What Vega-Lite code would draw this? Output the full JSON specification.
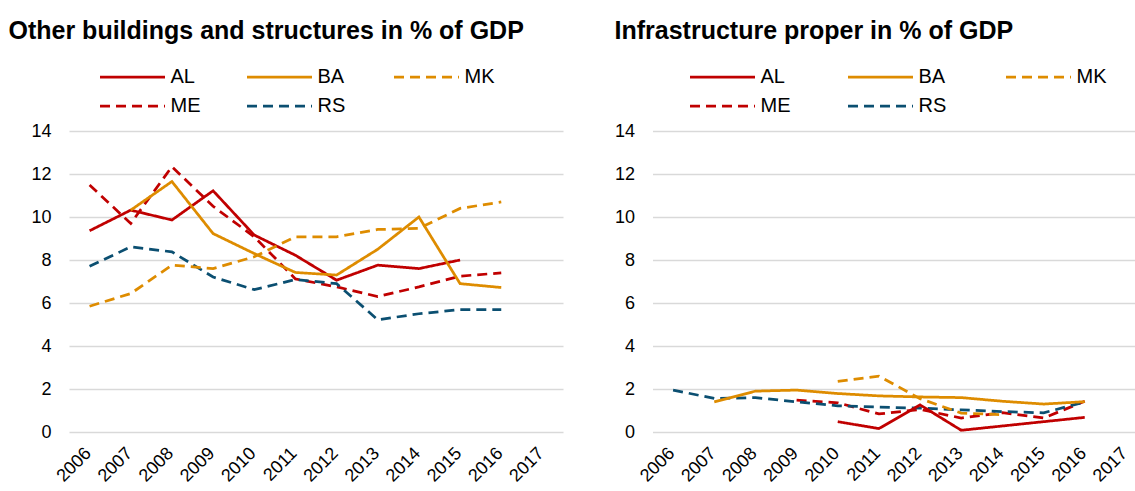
{
  "$schema": "https://vega.github.io/schema/vega-lite/v6.json",
  "padding": {"left": 8, "top": 19, "right": 0, "bottom": 0},
  "background": "white",
  "datasets": {
    "other": [
      {"series": "AL", "year": "2006", "value": 9.36},
      {"series": "AL", "year": "2007", "value": 10.32},
      {"series": "AL", "year": "2008", "value": 9.86},
      {"series": "AL", "year": "2009", "value": 11.22},
      {"series": "AL", "year": "2010", "value": 9.16},
      {"series": "AL", "year": "2011", "value": 8.22},
      {"series": "AL", "year": "2012", "value": 7.06},
      {"series": "AL", "year": "2013", "value": 7.76},
      {"series": "AL", "year": "2014", "value": 7.6},
      {"series": "AL", "year": "2015", "value": 8.0},
      {"series": "BA", "year": "2007", "value": 10.32},
      {"series": "BA", "year": "2008", "value": 11.65},
      {"series": "BA", "year": "2009", "value": 9.23},
      {"series": "BA", "year": "2010", "value": 8.3},
      {"series": "BA", "year": "2011", "value": 7.42},
      {"series": "BA", "year": "2012", "value": 7.3},
      {"series": "BA", "year": "2013", "value": 8.5},
      {"series": "BA", "year": "2014", "value": 10.0},
      {"series": "BA", "year": "2015", "value": 6.9},
      {"series": "BA", "year": "2016", "value": 6.72},
      {"series": "MK", "year": "2006", "value": 5.85},
      {"series": "MK", "year": "2007", "value": 6.44},
      {"series": "MK", "year": "2008", "value": 7.76},
      {"series": "MK", "year": "2009", "value": 7.6},
      {"series": "MK", "year": "2010", "value": 8.15},
      {"series": "MK", "year": "2011", "value": 9.08},
      {"series": "MK", "year": "2012", "value": 9.08},
      {"series": "MK", "year": "2013", "value": 9.42},
      {"series": "MK", "year": "2014", "value": 9.47},
      {"series": "MK", "year": "2015", "value": 10.4},
      {"series": "MK", "year": "2016", "value": 10.7},
      {"series": "ME", "year": "2006", "value": 11.49},
      {"series": "ME", "year": "2007", "value": 9.7},
      {"series": "ME", "year": "2008", "value": 12.34},
      {"series": "ME", "year": "2009", "value": 10.5},
      {"series": "ME", "year": "2010", "value": 9.08},
      {"series": "ME", "year": "2011", "value": 7.12},
      {"series": "ME", "year": "2012", "value": 6.75},
      {"series": "ME", "year": "2013", "value": 6.3},
      {"series": "ME", "year": "2014", "value": 6.75},
      {"series": "ME", "year": "2015", "value": 7.25},
      {"series": "ME", "year": "2016", "value": 7.4},
      {"series": "RS", "year": "2006", "value": 7.71},
      {"series": "RS", "year": "2007", "value": 8.61},
      {"series": "RS", "year": "2008", "value": 8.38},
      {"series": "RS", "year": "2009", "value": 7.21},
      {"series": "RS", "year": "2010", "value": 6.62},
      {"series": "RS", "year": "2011", "value": 7.09},
      {"series": "RS", "year": "2012", "value": 6.9},
      {"series": "RS", "year": "2013", "value": 5.22},
      {"series": "RS", "year": "2014", "value": 5.5},
      {"series": "RS", "year": "2015", "value": 5.69},
      {"series": "RS", "year": "2016", "value": 5.69}
    ],
    "infra": [
      {"series": "AL", "year": "2010", "value": 0.48},
      {"series": "AL", "year": "2011", "value": 0.16},
      {"series": "AL", "year": "2012", "value": 1.26},
      {"series": "AL", "year": "2013", "value": 0.08},
      {"series": "AL", "year": "2014", "value": 0.28},
      {"series": "AL", "year": "2015", "value": 0.48},
      {"series": "AL", "year": "2016", "value": 0.68},
      {"series": "BA", "year": "2007", "value": 1.4},
      {"series": "BA", "year": "2008", "value": 1.9},
      {"series": "BA", "year": "2009", "value": 1.95},
      {"series": "BA", "year": "2010", "value": 1.79},
      {"series": "BA", "year": "2011", "value": 1.68},
      {"series": "BA", "year": "2012", "value": 1.63},
      {"series": "BA", "year": "2013", "value": 1.6},
      {"series": "BA", "year": "2014", "value": 1.43},
      {"series": "BA", "year": "2015", "value": 1.3},
      {"series": "BA", "year": "2016", "value": 1.41},
      {"series": "MK", "year": "2010", "value": 2.35},
      {"series": "MK", "year": "2011", "value": 2.6},
      {"series": "MK", "year": "2012", "value": 1.55},
      {"series": "MK", "year": "2013", "value": 0.88},
      {"series": "MK", "year": "2014", "value": 0.8},
      {"series": "ME", "year": "2009", "value": 1.48},
      {"series": "ME", "year": "2010", "value": 1.36},
      {"series": "ME", "year": "2011", "value": 0.84},
      {"series": "ME", "year": "2012", "value": 1.05},
      {"series": "ME", "year": "2013", "value": 0.65},
      {"series": "ME", "year": "2014", "value": 0.9},
      {"series": "ME", "year": "2015", "value": 0.65},
      {"series": "ME", "year": "2016", "value": 1.43},
      {"series": "RS", "year": "2006", "value": 1.95},
      {"series": "RS", "year": "2007", "value": 1.56},
      {"series": "RS", "year": "2008", "value": 1.6},
      {"series": "RS", "year": "2009", "value": 1.4},
      {"series": "RS", "year": "2010", "value": 1.22},
      {"series": "RS", "year": "2011", "value": 1.16},
      {"series": "RS", "year": "2012", "value": 1.11},
      {"series": "RS", "year": "2013", "value": 1.03},
      {"series": "RS", "year": "2014", "value": 0.95},
      {"series": "RS", "year": "2015", "value": 0.89},
      {"series": "RS", "year": "2016", "value": 1.4}
    ]
  },
  "config": {
    "font": "Liberation Sans",
    "view": {"stroke": null},
    "axis": {"labelFont": "Liberation Sans", "labelFontSize": 18, "labelColor": "#000000", "ticks": false, "domain": false, "title": null},
    "axisX": {"labelAngle": -45, "grid": false, "labelPadding": 22, "labelAlign": "right", "labelBaseline": "alphabetic", "labelOffset": 2, "labelFontSize": 18},
    "axisY": {"values": [0,2,4,6,8,10,12,14], "grid": true, "gridColor": "#D9D9D9", "gridWidth": 1.5, "labelPadding": 18},
    "title": {"font": "Liberation Sans", "fontSize": 25, "fontWeight": "bold", "anchor": "start", "color": "#000000", "frame": "group", "offset": -1},
    "legend": {"orient": "none", "direction": "horizontal", "columns": 3, "gridAlign": "all", "symbolType": "stroke", "symbolSize": 4225, "symbolStrokeWidth": 3, "labelFontSize": 20, "labelFont": "Liberation Sans", "labelColor": "#000000", "labelOffset": 4, "title": null},
    "line": {"strokeWidth": 2.75}
  },
  "spacing": 89.5,
  "bounds": "flush",
  "hconcat": [
    {
      "title": {"text": "Other buildings and structures in % of GDP", "dx": -60.5},
      "width": 494,
      "height": 301,
      "data": {"name": "other"},
      "encoding": {
        "x": {"field": "year", "type": "ordinal", "scale": {"domain": ["2006","2007","2008","2009","2010","2011","2012","2013","2014","2015","2016","2017"]}},
        "y": {"field": "value", "type": "quantitative", "scale": {"domain": [0, 14]}}
      },
      "layer": [
        {
          "transform": [{"filter": {"field": "series", "oneOf": ["ME", "RS"]}}],
          "mark": "line",
          "encoding": {
            "color": {"field": "series", "type": "nominal", "scale": {"domain": ["ME","RS"], "range": ["#C00000","#0B4F71"]}, "legend": {"legendX": 29.5, "legendY": -59, "columnPadding": 41}},
            "strokeDash": {"field": "series", "type": "nominal", "scale": {"domain": ["ME","RS"], "range": [[10,6],[10,6]]}, "legend": {"legendX": 29.5, "legendY": -59, "columnPadding": 41}}
          }
        },
        {
          "transform": [{"filter": {"field": "series", "oneOf": ["AL", "BA", "MK"]}}],
          "mark": "line",
          "encoding": {
            "color": {"field": "series", "type": "nominal", "scale": {"domain": ["AL","BA","MK"], "range": ["#C00000","#DE8C00","#DE8C00"]}, "legend": {"legendX": 29.5, "legendY": -88, "columnPadding": 41}},
            "strokeDash": {"field": "series", "type": "nominal", "scale": {"domain": ["AL","BA","MK"], "range": [[1,0],[1,0],[10,6]]}, "legend": {"legendX": 29.5, "legendY": -88, "columnPadding": 41}}
          }
        }
      ],
      "resolve": {"scale": {"color": "independent", "strokeDash": "independent"}, "legend": {"color": "independent", "strokeDash": "independent"}}
    },
    {
      "title": {"text": "Infrastructure proper in % of GDP", "dx": -38},
      "width": 494,
      "height": 301,
      "data": {"name": "infra"},
      "encoding": {
        "x": {"field": "year", "type": "ordinal", "scale": {"domain": ["2006","2007","2008","2009","2010","2011","2012","2013","2014","2015","2016","2017"]}},
        "y": {"field": "value", "type": "quantitative", "scale": {"domain": [0, 14]}}
      },
      "layer": [
        {
          "transform": [{"filter": {"field": "series", "oneOf": ["ME", "RS"]}}],
          "mark": "line",
          "encoding": {
            "color": {"field": "series", "type": "nominal", "scale": {"domain": ["ME","RS"], "range": ["#C00000","#0B4F71"]}, "legend": {"legendX": 36, "legendY": -59, "columnPadding": 52}},
            "strokeDash": {"field": "series", "type": "nominal", "scale": {"domain": ["ME","RS"], "range": [[10,6],[10,6]]}, "legend": {"legendX": 36, "legendY": -59, "columnPadding": 52}}
          }
        },
        {
          "transform": [{"filter": {"field": "series", "oneOf": ["AL", "BA", "MK"]}}],
          "mark": "line",
          "encoding": {
            "color": {"field": "series", "type": "nominal", "scale": {"domain": ["AL","BA","MK"], "range": ["#C00000","#DE8C00","#DE8C00"]}, "legend": {"legendX": 36, "legendY": -88, "columnPadding": 52}},
            "strokeDash": {"field": "series", "type": "nominal", "scale": {"domain": ["AL","BA","MK"], "range": [[1,0],[1,0],[10,6]]}, "legend": {"legendX": 36, "legendY": -88, "columnPadding": 52}}
          }
        }
      ],
      "resolve": {"scale": {"color": "independent", "strokeDash": "independent"}, "legend": {"color": "independent", "strokeDash": "independent"}}
    }
  ],
  "resolve": {"scale": {"color": "independent", "strokeDash": "independent"}, "legend": {"color": "independent", "strokeDash": "independent"}}
}
